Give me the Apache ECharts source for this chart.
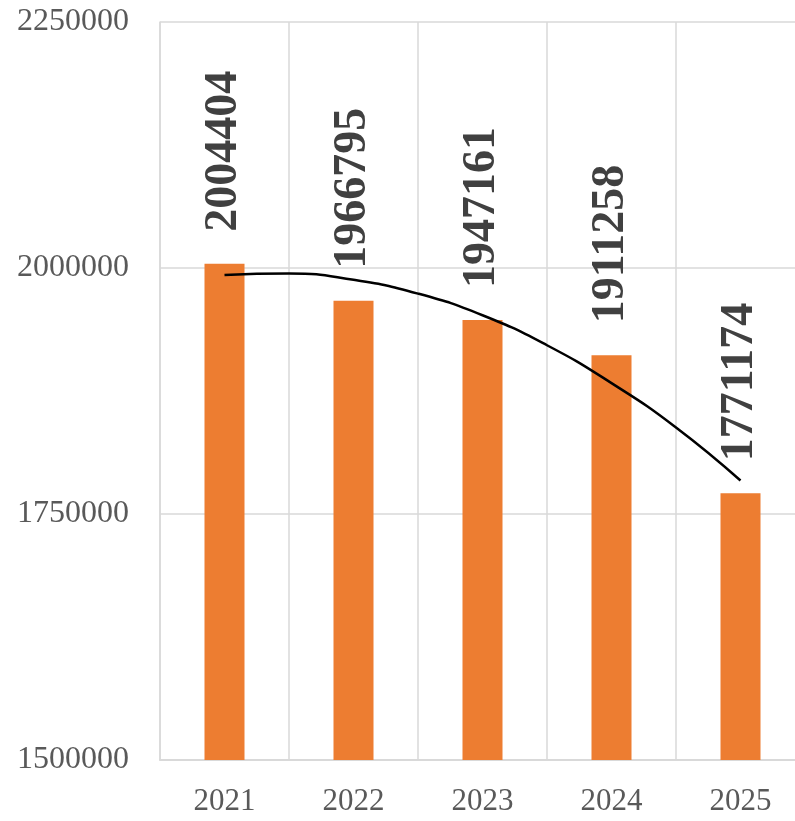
<!DOCTYPE html>
<html lang="en" style="height: 100%">
<head>
  <meta charset="utf-8">
</head>
<body style="height: 100%; margin: 0; overflow: hidden">
  <div id="container" style="width: 805px; height: 821px"></div>
  <script type="text/javascript" src="https://cdn.jsdelivr.net/npm/echarts@6/dist/echarts.min.js"></script>
  <script type="text/javascript">
    // data
    var years = ['2021', '2022', '2023', '2024', '2025'];
    var values = [2004404, 1966795, 1947161, 1911258, 1771174];
    // polynomial trend line, read at half-year steps
    var trendX = [2021, 2021.5, 2022, 2022.5, 2023, 2023.5, 2024, 2024.5, 2025];
    var trendY = [1993000, 1994500, 1988000, 1974000, 1952000, 1921500, 1883000, 1838000, 1784000];

    var serif = '"Liberation Serif", "DejaVu Serif", serif';

    var dom = document.getElementById('container');
    var myChart = echarts.init(dom, null, { renderer: 'canvas' });

    var trendData = trendX.map(function (x, i) { return [x, trendY[i]]; });

    var option = {
      animation: false,
      grid: {
        left: 160,
        top: 22,
        right: 0,
        bottom: 61,
        containLabel: false
      },
      xAxis: [
        {
          type: 'category',
          data: years,
          axisLine: { show: true, lineStyle: { color: '#d9d9d9', width: 2 } },
          axisTick: { show: false },
          axisLabel: {
            color: '#595959',
            fontFamily: serif,
            fontSize: 31,
            margin: 26
          },
          splitLine: { show: true, lineStyle: { color: '#d9d9d9', width: 1.5 } }
        },
        {
          type: 'value',
          min: 2020.5,
          max: 2025.5,
          show: false
        }
      ],
      yAxis: {
        type: 'value',
        min: 1500000,
        max: 2250000,
        interval: 250000,
        axisLine: { show: true, lineStyle: { color: '#d9d9d9', width: 1.5 } },
        axisTick: { show: false },
        axisLabel: {
          color: '#595959',
          fontFamily: serif,
          fontSize: 32,
          margin: 31,
          formatter: function (v) { return String(v); }
        },
        splitLine: { lineStyle: { color: '#d9d9d9', width: 1.5 } }
      },
      series: [
        {
          type: 'bar',
          data: values,
          barWidth: 40,
          itemStyle: { color: '#ED7D31' },
          label: {
            show: true,
            position: 'top',
            rotate: 90,
            align: 'left',
            verticalAlign: 'middle',
            distance: 32,
            color: '#404040',
            fontFamily: serif,
            fontWeight: 'bold',
            fontSize: 46
          },
          z: 2
        },
        {
          type: 'line',
          xAxisIndex: 1,
          data: trendData,
          smooth: true,
          symbol: 'none',
          lineStyle: { color: '#000000', width: 2.5 },
          z: 3
        }
      ]
    };

    myChart.setOption(option);
    window.addEventListener('resize', myChart.resize);
  </script>
</body>
</html>
